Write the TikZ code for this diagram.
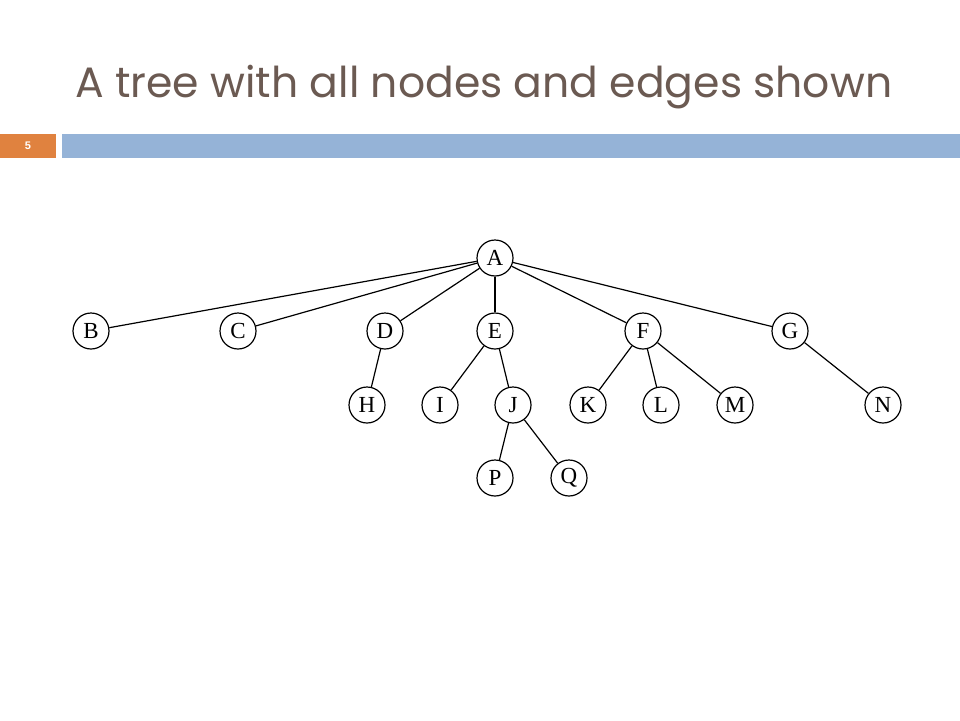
\documentclass[tikz,border=0pt]{standalone}
\usepackage{fontspec}
\setmainfont{Liberation Serif}
\newfontfamily\titlefont{Poppins}
\newfontfamily\numfont{Liberation Sans}
\definecolor{titlecol}{HTML}{6B5A52}
\definecolor{barblue}{HTML}{95B3D7}
\definecolor{barorange}{HTML}{E0823F}
\begin{document}
\begin{tikzpicture}[x=1pt,y=-1pt,
  tnode/.style={circle,draw,line width=1.2pt,minimum size=36pt,inner sep=0pt,font=\fontsize{23}{23}\selectfont},
  tedge/.style={line width=1.2pt}]
\useasboundingbox (0,0) rectangle (960,720);
\fill[white] (0,0) rectangle (960,720);
\node[anchor=base west,text=titlecol,inner sep=0pt,font=\titlefont\fontsize{42.5}{42.5}\selectfont] (title) at (75,97) {A tree with all nodes and edges shown};
\fill[barorange] (0,134) rectangle (56,158);
\fill[barblue] (62,134) rectangle (960,158);
\node[text=white,font=\numfont\bfseries\fontsize{11}{11}\selectfont] (num) at (28,146) {5};
\node[tnode] (A) at (495,258) {A};
\node[tnode] (B) at (91,331) {B};
\node[tnode] (C) at (238,331) {C};
\node[tnode] (D) at (385,331) {D};
\node[tnode] (E) at (495,331) {E};
\node[tnode] (F) at (643,331) {F};
\node[tnode] (G) at (790,331) {G};
\node[tnode] (H) at (367,405) {H};
\node[tnode] (I) at (440,405) {I};
\node[tnode] (J) at (513,405) {J};
\node[tnode] (K) at (588,405) {K};
\node[tnode] (L) at (661,405) {L};
\node[tnode] (M) at (735,405) {M};
\node[tnode] (N) at (883,405) {N};
\node[tnode] (P) at (495,478) {P};
\node[tnode] (Q) at (569,478) {Q};
\foreach \c in {B,C,D,E,F,G} \draw[tedge] (A) -- (\c);
\draw[tedge] (D) -- (H);
\draw[tedge] (E) -- (I);
\draw[tedge] (E) -- (J);
\draw[tedge] (J) -- (P);
\draw[tedge] (J) -- (Q);
\draw[tedge] (F) -- (K);
\draw[tedge] (F) -- (L);
\draw[tedge] (F) -- (M);
\draw[tedge] (G) -- (N);
\end{tikzpicture}
\end{document}
